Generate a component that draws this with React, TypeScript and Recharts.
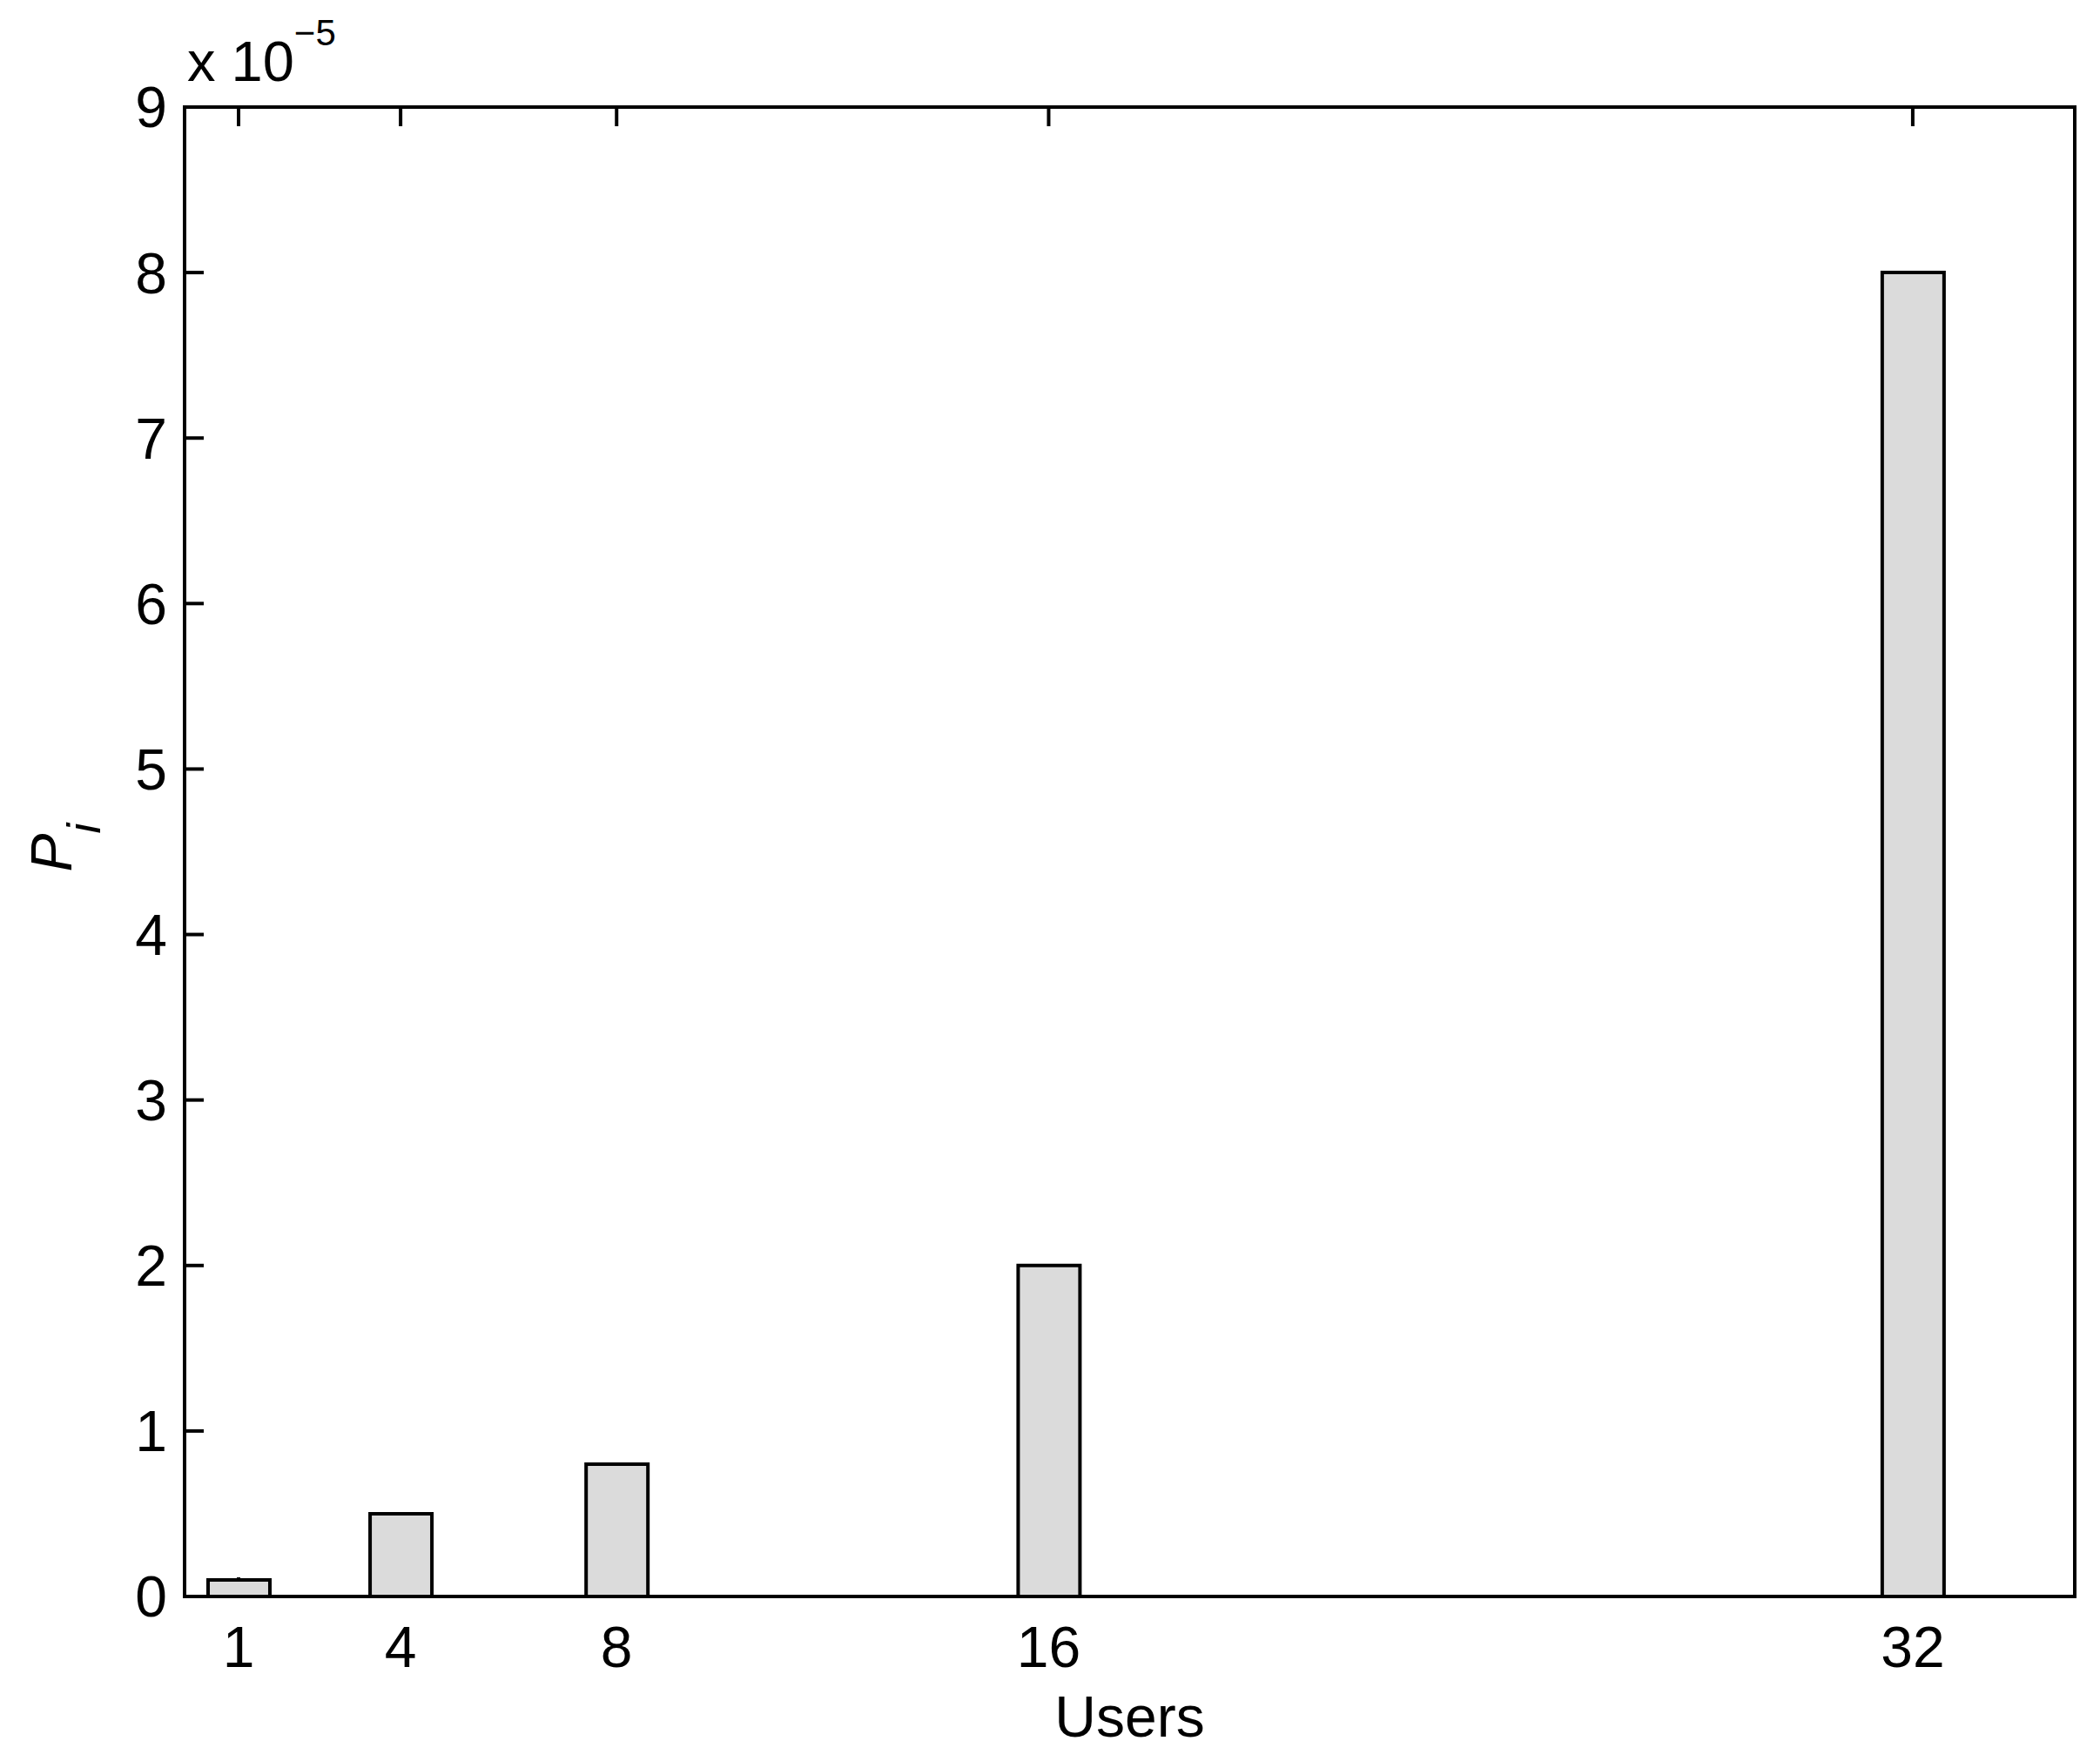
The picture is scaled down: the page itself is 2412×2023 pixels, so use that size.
import React from 'react';
import { BarChart, Bar, XAxis, YAxis } from 'recharts';

// Data (P_i values in units of 1e-5)
const users = [1, 4, 8, 16, 32];
const pValues = [0.1, 0.5, 0.8, 2, 8];
const xTicks = [1, 4, 8, 16, 32];
const yTicks = [0, 1, 2, 3, 4, 5, 6, 7, 8, 9];

const data = users.map((u, i) => ({ users: u, p: pValues[i] }));

const FONT = '"Liberation Sans", Arial, Helvetica, sans-serif';
const lineStyle = { stroke: '#000', strokeWidth: 4, strokeLinecap: 'square' as const };
const tickLineStyle = { stroke: '#000', strokeWidth: 4 };
const tickText = { fill: '#000', fontSize: 66, fontFamily: FONT };
const NoLabel = () => <g />;

const YLabel = (props: any) => {
  const vb = props.viewBox || {};
  const cx = 74;
  const cy = vb.y + vb.height / 2 - 5;
  const ex = vb.x + vb.width + 3;
  const ey = vb.y - 30;
  return (
    <g>
      <text
        x={cx}
        y={cy}
        transform={`rotate(-90, ${cx}, ${cy})`}
        textAnchor="middle"
        fontFamily={FONT}
        fontSize={66}
        fill="#000"
      >
        <tspan fontStyle="italic">P</tspan>
        <tspan fontStyle="italic" fontSize={53} dy={33}>i</tspan>
      </text>
      <text x={ex} y={ey} fontFamily={FONT} fontSize={65} fill="#000">
        <tspan>x 10</tspan>
        <tspan fontSize={42} dy={-41}>{'\u22125'}</tspan>
      </text>
    </g>
  );
};

const XLabel = (props: any) => {
  const vb = props.viewBox || {};
  return (
    <text
      x={vb.x + vb.width / 2}
      y={vb.y + 161}
      textAnchor="middle"
      fontFamily={FONT}
      fontSize={66}
      fill="#000"
    >
      Users
    </text>
  );
};

export default function App() {
  return (
    <div style={{ width: 2404, height: 2015, background: '#fff' }}>
      <BarChart
        width={2404}
        height={2015}
        data={data}
        margin={{ top: 114, right: 28, bottom: 39, left: 54 }}
        style={{ fontFamily: FONT }}
      >
        <XAxis
          dataKey="users"
          type="number"
          domain={[0, 35]}
          ticks={xTicks}
          interval={0}
          height={150}
          axisLine={lineStyle}
          tickLine={tickLineStyle}
          tickSize={-22}
          tickMargin={56}
          tick={tickText}
          label={<XLabel />}
        />
        <XAxis
          xAxisId="top"
          dataKey="users"
          type="number"
          orientation="top"
          domain={[0, 35]}
          ticks={xTicks}
          interval={0}
          height={1}
          axisLine={lineStyle}
          tickLine={tickLineStyle}
          tickSize={-22}
          tick={NoLabel}
        />
        <YAxis
          type="number"
          domain={[0, 9]}
          ticks={yTicks}
          interval={0}
          width={150}
          axisLine={lineStyle}
          tickLine={tickLineStyle}
          tickSize={-22}
          tickMargin={42}
          tick={tickText}
          label={<YLabel />}
        />
        <YAxis
          yAxisId="right"
          type="number"
          orientation="right"
          domain={[0, 9]}
          ticks={yTicks}
          interval={0}
          width={1}
          axisLine={lineStyle}
          tickLine={tickLineStyle}
          tickSize={-22}
          tick={NoLabel}
        />
        <Bar
          dataKey="p"
          barSize={71}
          fill="#dbdbdb"
          stroke="#000"
          strokeWidth={4}
          isAnimationActive={false}
          {...({ zIndex: 700 } as any)}
        />
      </BarChart>
    </div>
  );
}
